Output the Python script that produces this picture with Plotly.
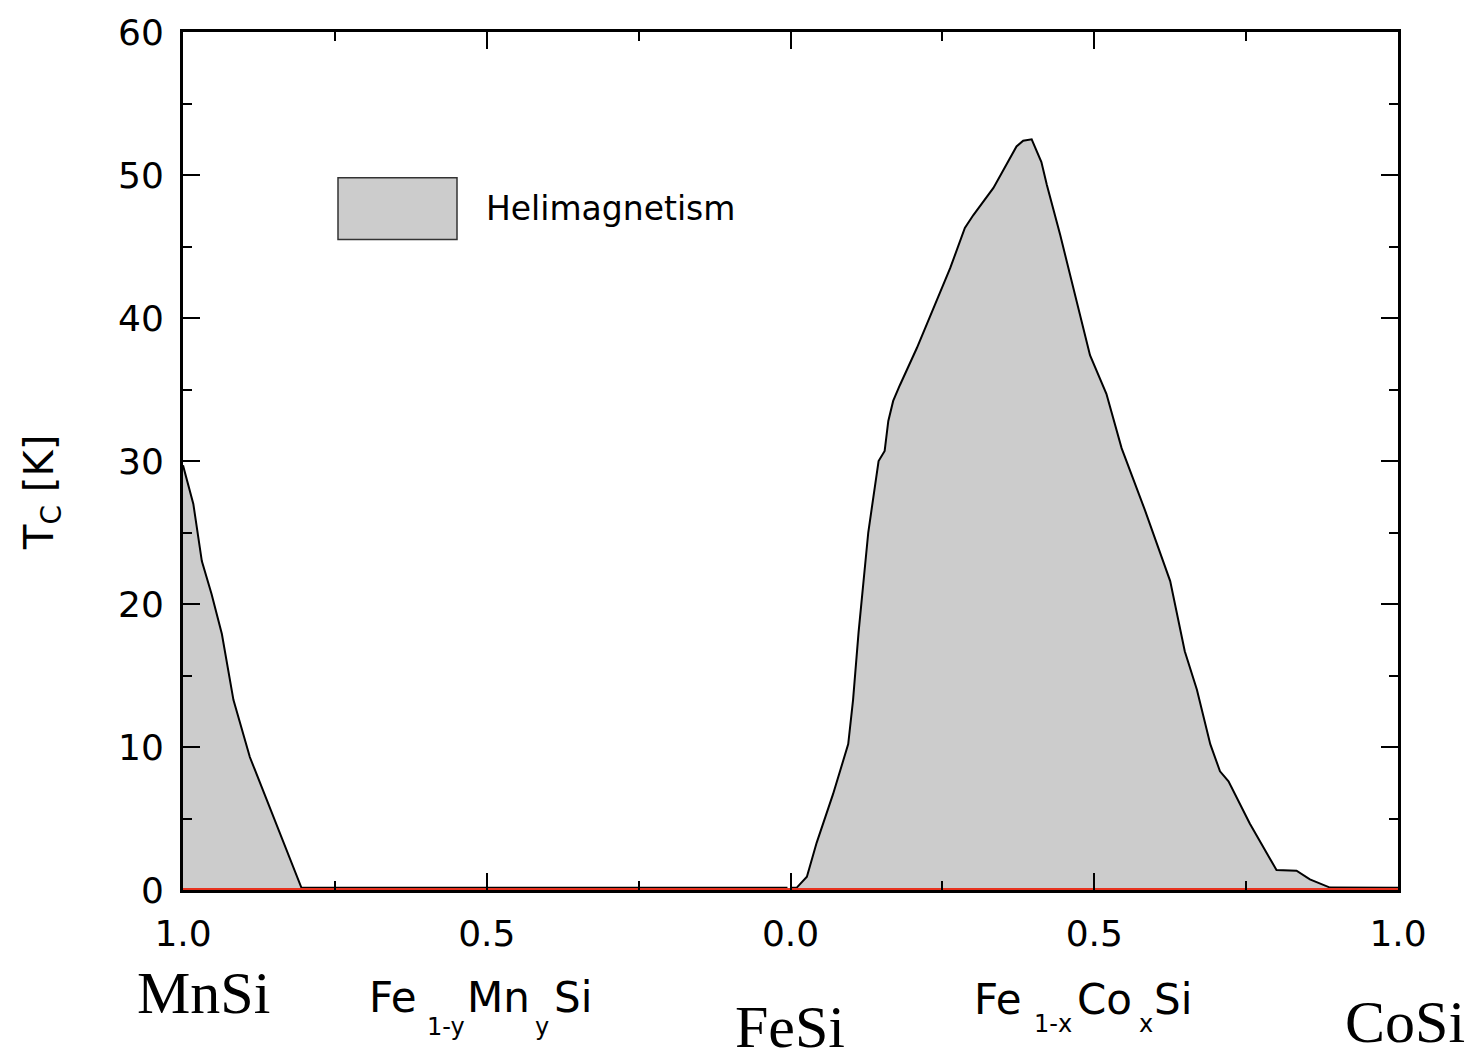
import plotly.graph_objects as go

# Fe(1-y)Mn(y)Si side: Mn concentration y and Tc [K]
y_mn = [1.000, 0.983, 0.969, 0.953, 0.936, 0.917, 0.890, 0.862, 0.835, 0.805, 0.600, 0.400, 0.200, 0.005]
tc_mn = [29.7, 27.0, 23.0, 20.7, 17.9, 13.3, 9.3, 6.3, 3.5, 0.15, 0.15, 0.15, 0.15, 0.15]

# Fe(1-x)Co(x)Si side: Co concentration x and Tc [K]
x_co = [0.000, 0.010, 0.027, 0.043, 0.070, 0.095, 0.103, 0.112, 0.128, 0.145, 0.155, 0.161, 0.169,
        0.180, 0.208, 0.241, 0.263, 0.287, 0.301, 0.334, 0.372, 0.383, 0.397, 0.413, 0.422, 0.444,
        0.471, 0.493, 0.520, 0.545, 0.584, 0.625, 0.649, 0.669, 0.691, 0.707, 0.721, 0.756, 0.781,
        0.800, 0.833, 0.855, 0.888, 1.000]
tc_co = [0.15, 0.15, 0.93, 3.3, 6.7, 10.2, 13.3, 18.0, 25.0, 30.0, 30.7, 32.8, 34.2,
         35.3, 37.9, 41.2, 43.5, 46.3, 47.2, 49.1, 52.0, 52.4, 52.5, 50.9, 49.3, 45.8,
         41.2, 37.4, 34.7, 30.9, 26.5, 21.6, 16.7, 14.0, 10.2, 8.3, 7.6, 4.65, 2.8,
         1.4, 1.35, 0.74, 0.17, 0.15]

tick_pos = [-1.0, -0.5, 0.0, 0.5, 1.0]
tick_text = ["1.0", "0.5", "0.0", "0.5", "1.0"]
minor_pos = [-0.75, -0.25, 0.25, 0.75]

FILL = "#cccccc"
SANS = "DejaVu Sans, Verdana, sans-serif"
SERIF = "Liberation Serif, Times New Roman, serif"

# plot-area pixel geometry (for placing text decorations)
L, R, T, B = 183, 1398, 30, 890


def px(xp):
    return (xp - L) / (R - L)


def py(yp):
    return (B - yp) / (B - T)


fig = go.Figure()

fig.add_trace(go.Scatter(x=[-v for v in y_mn], y=tc_mn, mode="lines", fill="tozeroy",
                         fillcolor=FILL, line=dict(color="black", width=2),
                         name="Helimagnetism", showlegend=False))
fig.add_trace(go.Scatter(x=x_co, y=tc_co, mode="lines", fill="tozeroy",
                         fillcolor=FILL, line=dict(color="black", width=2),
                         name="Helimagnetism", showlegend=False))
# zero baseline (red)
fig.add_trace(go.Scatter(x=[-1, 1], y=[0, 0], mode="lines",
                         line=dict(color="#e8321e", width=4), showlegend=False, hoverinfo="skip"))

axis_common = dict(showline=True, linecolor="black", linewidth=3, mirror="allticks",
                   ticks="inside", tickcolor="black", tickwidth=2, showgrid=False,
                   zeroline=False, tickfont=dict(family=SANS, size=36, color="black"))

fig.update_xaxes(range=[-1, 1], tickvals=tick_pos, ticktext=tick_text, ticklen=17,
                 ticklabelstandoff=10,
                 minor=dict(tickvals=minor_pos, ticks="inside", ticklen=9,
                            tickcolor="black", tickwidth=2, showgrid=False),
                 **axis_common)
fig.update_yaxes(range=[0, 60], dtick=10, ticklen=17, ticklabelstandoff=9,
                 minor=dict(dtick=5, ticks="inside", ticklen=9,
                            tickcolor="black", tickwidth=2, showgrid=False),
                 **axis_common)

# y-axis title
fig.add_annotation(text="T<sub>C</sub> [K]", xref="paper", yref="paper", x=px(42), y=py(492),
                   xanchor="center", yanchor="middle", textangle=-90, showarrow=False,
                   font=dict(family=SANS, size=40, color="black"))

# legend box
fig.add_shape(type="rect", xref="paper", yref="paper", x0=px(338), x1=px(457), y0=py(238), y1=py(176),
              fillcolor=FILL, line=dict(color="#333333", width=1.5))
fig.add_annotation(text="Helimagnetism", xref="paper", yref="paper", x=px(484), y=py(207),
                   xanchor="left", yanchor="middle", showarrow=False,
                   font=dict(family=SANS, size=33, color="black"))

# bottom composition labels (end members)
for txt, cx, cy in [("MnSi", 203, 993), ("FeSi", 790, 1027), ("CoSi", 1405, 1022)]:
    fig.add_annotation(text=txt, xref="paper", yref="paper", x=px(cx), y=py(cy),
                       xanchor="center", yanchor="middle", showarrow=False,
                       font=dict(family=SERIF, size=60, color="black"))

# formula labels built from pieces: (text, left px, is_subscript)
formula_mn = [("Fe", 367, False), ("1-y", 425, True), ("Mn", 465, False), ("y", 533, True), ("Si", 552, False)]
formula_co = [("Fe", 972, False), ("1-x", 1032, True), ("Co", 1075, False), ("x", 1137, True), ("Si", 1152, False)]
for pieces, main_cy, sub_cy in [(formula_mn, 998, 1027), (formula_co, 1000, 1024)]:
    for txt, lx, is_sub in pieces:
        fig.add_annotation(text=txt, xref="paper", yref="paper", x=px(lx),
                           y=py(sub_cy if is_sub else main_cy),
                           xanchor="left", yanchor="middle", showarrow=False,
                           font=dict(family=SANS, size=24 if is_sub else 42, color="black"))

fig.update_layout(width=1478, height=1052, plot_bgcolor="white", paper_bgcolor="white",
                  margin=dict(l=L, r=1478 - R, t=T, b=1052 - B), showlegend=False)

fig.write_html("out.html")
